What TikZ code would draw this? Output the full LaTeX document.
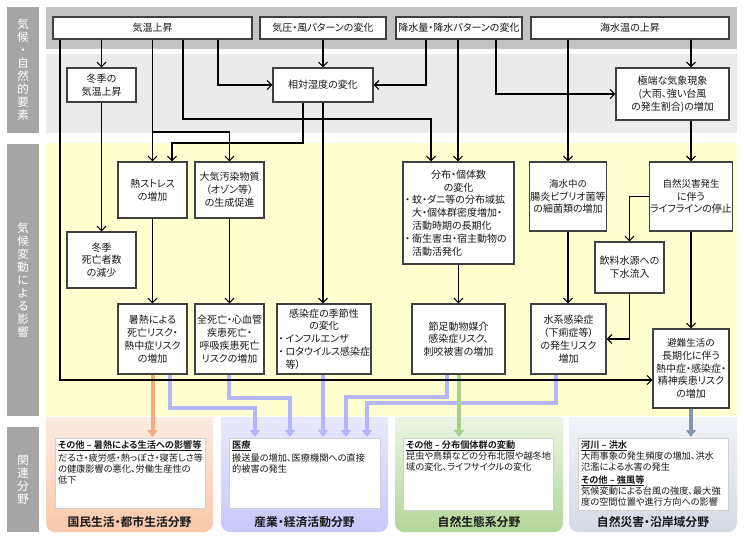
\documentclass[tikz,border=0pt]{standalone}
\usepackage{fontspec}
\setmainfont{Noto Sans CJK JP}[RawFeature={+palt},BoldFont={* Bold}]
\usetikzlibrary{arrows.meta}
\definecolor{boxc}{RGB}{64,64,64}
\definecolor{txt}{RGB}{25,25,25}
\definecolor{bandD}{RGB}{196,196,196}
\definecolor{bandL}{RGB}{235,235,235}
\definecolor{labg}{RGB}{166,166,166}
\definecolor{yel}{RGB}{255,255,208}
\definecolor{lav}{RGB}{182,182,255}
\definecolor{orn}{RGB}{244,172,126}
\definecolor{grn}{RGB}{169,209,142}
\definecolor{bgr}{RGB}{132,151,176}
\definecolor{pAt}{RGB}{253,236,224}\definecolor{pAb}{RGB}{248,200,170}
\definecolor{pBt}{RGB}{232,232,253}\definecolor{pBb}{RGB}{200,200,250}
\definecolor{pCt}{RGB}{236,245,229}\definecolor{pCb}{RGB}{178,214,152}
\definecolor{pDt}{RGB}{241,243,247}\definecolor{pDb}{RGB}{212,218,228}
\newcommand\bx[6]{\node[box,minimum width={(#4-#2)*1pt},minimum height={(#5-#3)*1pt}] (#1) at ({(#2+#4)/2},{(#3+#5)/2}) {#6};}
\newcommand\bul{\makebox[7pt][l]{・}}
\newcommand\sm{\fontsize{9.5}{12.6}\selectfont}
\begin{document}
\begin{tikzpicture}[x=1pt,y=-1pt,
 box/.style={draw=boxc, line width=1.1pt, fill=white, align=center, inner sep=1pt, text=txt, font=\fontsize{10}{12.8}\selectfont},
 arr/.style={line width=1.2pt, -{Straight Barb[length=4.5pt,width=9pt]}},
 carr/.style={line width=4pt, -{Triangle[width=10pt,length=7pt]}, shorten >=1pt},
 vlab/.style={align=center, text=white, font=\fontsize{11.5}{13}\selectfont},
 ptitle/.style={font=\bfseries\fontsize{11.8}{13}\selectfont, text=txt},
 pbox/.style={draw=black!18, fill=white, anchor=north west, inner sep=0pt},
 ptext/.style={anchor=north west, align=left, inner sep=0pt, text=txt, font=\fontsize{9.2}{11}\selectfont}]
\useasboundingbox[fill=white] (0,0) rectangle (744,539);
% bands
\fill[labg] (7,7) rectangle (39,133);
\fill[labg] (7,144) rectangle (39,416);
\fill[labg] (7,427) rectangle (39,532);
\node[vlab] at (23,70) {気\\候\\・\\自\\然\\的\\要\\素};
\node[vlab] at (23,280) {気\\候\\変\\動\\に\\よ\\る\\影\\響};
\node[vlab] at (23,480) {関\\連\\分\\野};
\fill[bandD] (46,7) rectangle (737,49);
\fill[bandL] (46,54) rectangle (737,133);
\fill[yel] (46,143) rectangle (737,416);
% panels
\shade[top color=pAt, bottom color=pAb] (46,417) [rounded corners=9pt] -- (46,532) -- (213,532) [sharp corners] -- (213,417) -- cycle;
\shade[top color=pBt, bottom color=pBb] (221,417) [rounded corners=9pt] -- (221,532) -- (388,532) [sharp corners] -- (388,417) -- cycle;
\shade[top color=pCt, bottom color=pCb] (395,417) [rounded corners=9pt] -- (395,532) -- (563,532) [sharp corners] -- (563,417) -- cycle;
\shade[top color=pDt, bottom color=pDb] (569,417) [rounded corners=9pt] -- (569,532) -- (737,532) [sharp corners] -- (737,417) -- cycle;
\node[pbox, minimum width=150pt, minimum height=70pt] (p1) at (55,438) {};
\node[pbox, minimum width=151pt, minimum height=70pt] (p2) at (229,438) {};
\node[pbox, minimum width=150pt, minimum height=72pt] (p3) at (403,438) {};
\node[pbox, minimum width=150pt, minimum height=72pt] (p4) at (578,438) {};
\node[ptext] at ([xshift=3pt,yshift=-2pt]p1.north west) {\underline{\textbf{その他 – 暑熱による生活への影響等}}\\[2pt]だるさ・疲労感・熱っぽさ・寝苦しさ等\\の健康影響の悪化、労働生産性の\\低下};
\node[ptext] at ([xshift=3pt,yshift=-2pt]p2.north west) {\underline{\textbf{医療}}\\[2pt]搬送量の増加、医療機関への直接\\的被害の発生};
\node[ptext] at ([xshift=3pt,yshift=-2pt]p3.north west) {\underline{\textbf{その他 – 分布個体群の変動}}\\昆虫や鳥類などの分布北限や越冬地\\域の変化、ライフサイクルの変化};
\node[ptext] at ([xshift=3pt,yshift=-2pt]p4.north west) {\underline{\textbf{河川 – 洪水}}\\大雨事象の発生頻度の増加、洪水\\氾濫による水害の発生\\[2pt]\underline{\textbf{その他 – 強風等}}\\気候変動による台風の強度、最大強\\度の空間位置や進行方向への影響};
\node[ptitle] at (129.5,522) {国民生活・都市生活分野};
\node[ptitle] at (304.5,522) {産業・経済活動分野};
\node[ptitle] at (479,522) {自然生態系分野};
\node[ptitle] at (653,522) {自然災害・沿岸域分野};
% boxes
\bx{kion}{53}{17}{252}{39}{気温上昇}
\bx{kiatsu}{260}{17}{386}{39}{気圧・風パターンの変化}
\bx{kousui}{396}{17}{522}{39}{降水量・降水パターンの変化}
\bx{kaisui}{531}{17}{729}{39}{海水温の上昇}
\bx{toki}{67}{68}{136}{102}{冬季の\\気温上昇}
\bx{shitsudo}{273}{68}{373}{102}{相対湿度の変化}
\bx{kyokutan}{616}{68}{729}{120}{極端な気象現象\\(大雨、強い台風\\の発生割合)の増加}
\bx{netsu}{118}{162}{187}{218}{熱ストレス\\の増加}
\bx{taiki}{195}{162}{264}{218}{大気汚染物質\\（オゾン等）\\の生成促進}
\bx{toshi}{67}{232}{136}{288}{冬季\\死亡者数\\の減少}
\bx{bunpu}{403}{162}{514}{264}{\parbox{107pt}{\centering 分布・個体数\\の変化\par\raggedright
\bul 蚊・ダニ等の分布域拡\\\hspace*{7pt}大・個体群密度増加・\\\hspace*{7pt}活動時期の長期化\\\bul 衛生害虫・宿主動物の\\\hspace*{7pt}活動活発化}}
\bx{kaichu}{531}{162}{605}{231}{\sm 海水中の\\腸炎ビブリオ菌等\\の細菌類の増加}
\bx{saigai}{653}{162}{729}{231}{\sm 自然災害発生\\に伴う\\ライフラインの停止}
\bx{inryo}{595}{242}{664}{293}{飲料水源への\\下水流入}
\bx{shonetsu}{118}{304}{187}{374}{暑熱による\\死亡リスク・\\熱中症リスク\\の増加}
\bx{zenshibo}{195}{304}{264}{374}{全死亡・心血管\\疾患死亡・\\呼吸疾患死亡\\リスクの増加}
\bx{kansen}{277}{304}{371}{374}{\parbox{91pt}{\centering 感染症の季節性\\の変化\par\raggedright
\bul インフルエンザ\\\bul ロタウイルス感染症\\\hspace*{7pt}等）}}
\bx{sessoku}{412}{304}{505}{374}{節足動物媒介\\感染症リスク、\\刺咬被害の増加}
\bx{suikei}{531}{304}{606}{374}{水系感染症\\（下痢症等）\\の発生リスク\\増加}
\bx{hinan}{653}{329}{729}{408}{\sm 避難生活の\\長期化に伴う\\熱中症・感染症・\\精神疾患リスク\\の増加}
% coloured connectors
\draw[carr, orn] (shonetsu.south) -- (shonetsu.south |- p1.north);
\draw[carr, lav] (shonetsu.south -| 170,0) -- (170,408) -| (p2.north -| 255,0);
\draw[carr, lav] (zenshibo.south -| 229,0) -- (229,398) -| (p2.north -| 290,0);
\draw[carr, lav] (kansen.south -| 323,0) -- (p2.north -| 323,0);
\draw[carr, lav] (sessoku.south -| 447,0) -- (447,397) -| (p2.north -| 346,0);
\draw[carr, lav] (suikei.south -| 556,0) -- (556,403) -| (p2.north -| 367,0);
\draw[carr, grn] (sessoku.south -| 459,0) -- (p3.north -| 459,0);
\draw[carr, bgr] (hinan.south) -- (hinan.south |- p4.north);
% black connectors
\draw[arr] (kion.south -| 60,0) |- (hinan.west |- 0,380);
\draw[arr] (kion.south -| toki.north) -- (toki.north);
\draw[arr] (kion.south -| netsu.north) -- (netsu.north);
\draw[arr] (netsu.north |- 0,132) -| (taiki.north);
\draw[arr] (kion.south -| 183,0) -- (183,119) -| (bunpu.north -| 431,0);
\draw[arr] (kion.south -| 218,0) |- (shitsudo.west);
\draw[arr] (kiatsu.south) -- (shitsudo.north);
\draw[arr] (kousui.south -| 426,0) |- (shitsudo.east);
\draw[arr] (kousui.south -| 458,0) -- (bunpu.north -| 458,0);
\draw[arr] (kousui.south -| 496,0) |- (kyokutan.west);
\draw[arr] (kaisui.south -| kaichu.north) -- (kaichu.north);
\draw[arr] (kaisui.south -| saigai.north) -- (kyokutan.north -| saigai.north);
\draw[arr] (kyokutan.south -| saigai.north) -- (saigai.north);
\draw[arr] (shitsudo.south -| 303,0) -- (303,143) -| (netsu.north -| 172,0);
\draw[arr] (shitsudo.south) -- (shitsudo.south |- kansen.north);
\draw[arr] (toki.south) -- (toshi.north);
\draw[arr] (netsu.south) -- (shonetsu.north);
\draw[arr] (taiki.south) -- (zenshibo.north);
\draw[arr] (bunpu.south) -- (sessoku.north);
\draw[arr] (kaichu.south) -- (kaichu.south |- suikei.north);
\draw[arr] (saigai.west) -| (inryo.north);
\draw[arr] (inryo.south) |- (suikei.east);
\draw[arr] (saigai.south) -- (hinan.north);
\end{tikzpicture}
\end{document}
